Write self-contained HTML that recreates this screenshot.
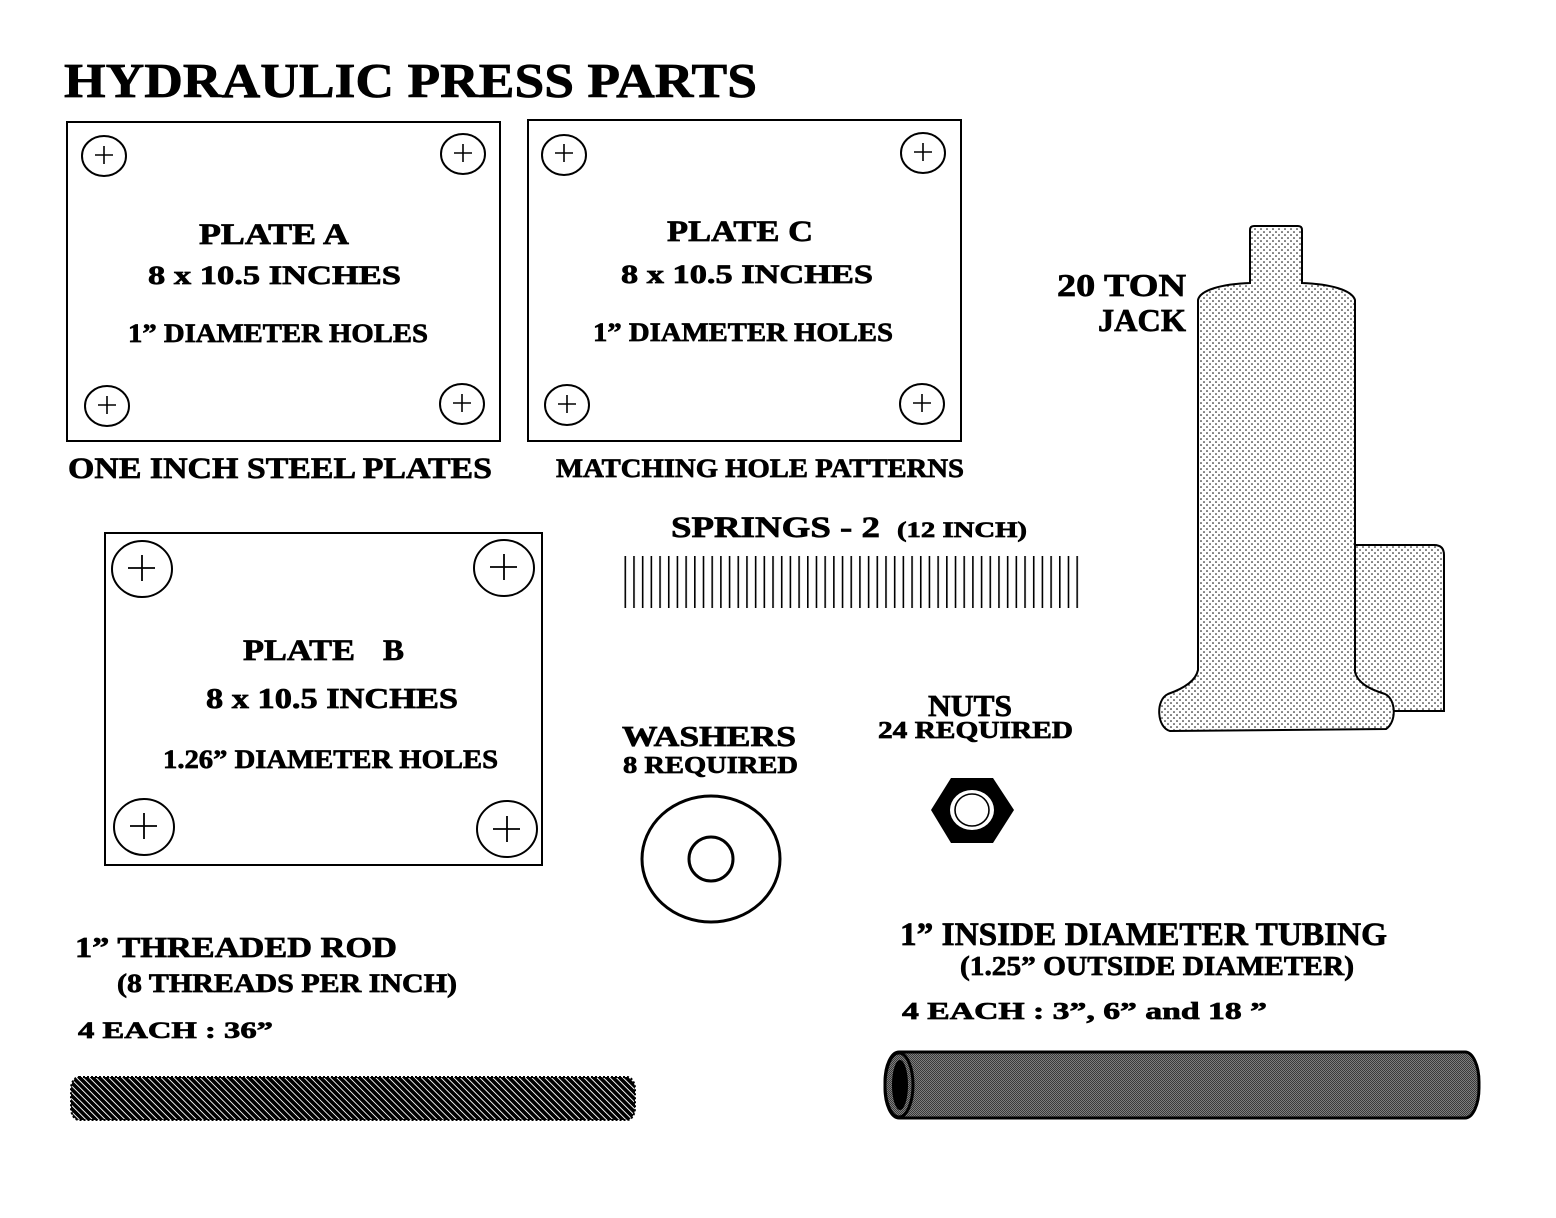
<!DOCTYPE html>
<html>
<head>
<meta charset="utf-8">
<style>
  html,body{margin:0;padding:0;background:#fff;}
  svg{display:block;}
  text{font-family:"Liberation Serif","DejaVu Serif",serif;font-weight:bold;fill:#000;stroke:#000;stroke-width:0.7;}
</style>
</head>
<body>
<svg width="1556" height="1218" viewBox="0 0 1556 1218" xmlns="http://www.w3.org/2000/svg">
  <defs>
    <pattern id="dots" patternUnits="userSpaceOnUse" width="6" height="6">
      <rect width="6" height="6" fill="#fff"/>
      <circle cx="1" cy="1" r="0.8" fill="#000"/>
      <circle cx="4" cy="4" r="0.8" fill="#000"/>
    </pattern>
    <pattern id="spring" patternUnits="userSpaceOnUse" x="624.5" y="0" width="8.69" height="10">
      <rect x="0" y="0" width="1.6" height="10" fill="#000"/>
    </pattern>
    <pattern id="thread" patternUnits="userSpaceOnUse" width="4.6" height="4.6" patternTransform="rotate(-45)">
      <rect width="4.6" height="4.6" fill="#000"/>
      <rect x="0" y="0" width="0.9" height="4.6" fill="#fff"/>
    </pattern>
    <pattern id="check" patternUnits="userSpaceOnUse" width="2" height="2">
      <rect width="2" height="2" fill="#7e7e7e"/>
      <rect width="1" height="1" fill="#3a3a3a"/>
      <rect x="1" y="1" width="1" height="1" fill="#3a3a3a"/>
    </pattern>
  </defs>

  <!-- Title -->
  <text x="64" y="97" font-size="49" textLength="693" lengthAdjust="spacingAndGlyphs">HYDRAULIC PRESS PARTS</text>

  <!-- Plate A -->
  <rect x="67" y="122" width="433" height="319" fill="none" stroke="#000" stroke-width="2"/>
  <g fill="none" stroke="#000" stroke-width="2">
    <ellipse cx="104" cy="156" rx="22" ry="20"/>
    <ellipse cx="463" cy="154" rx="22" ry="20"/>
    <ellipse cx="107" cy="406" rx="22" ry="20"/>
    <ellipse cx="462" cy="404" rx="22" ry="20"/>
  </g>
  <g stroke="#000" stroke-width="1.6">
    <path d="M95 155h18M104 146v18"/>
    <path d="M454 153h18M463 144v18"/>
    <path d="M98 405h18M107 396v18"/>
    <path d="M453 403h18M462 394v18"/>
  </g>
  <text x="199" y="244" font-size="30" textLength="150" lengthAdjust="spacingAndGlyphs">PLATE A</text>
  <text x="148" y="284" font-size="26" textLength="253" lengthAdjust="spacingAndGlyphs">8 x 10.5 INCHES</text>
  <text x="128" y="342" font-size="26" textLength="300" lengthAdjust="spacingAndGlyphs">1” DIAMETER HOLES</text>

  <!-- Plate C -->
  <rect x="528" y="120" width="433" height="321" fill="none" stroke="#000" stroke-width="2"/>
  <g fill="none" stroke="#000" stroke-width="2">
    <ellipse cx="564" cy="155" rx="22" ry="20"/>
    <ellipse cx="923" cy="153" rx="22" ry="20"/>
    <ellipse cx="567" cy="405" rx="22" ry="20"/>
    <ellipse cx="922" cy="404" rx="22" ry="20"/>
  </g>
  <g stroke="#000" stroke-width="1.6">
    <path d="M555 153h18M564 144v18"/>
    <path d="M914 152h18M923 143v18"/>
    <path d="M558 404h18M567 395v18"/>
    <path d="M913 403h18M922 394v18"/>
  </g>
  <text x="667" y="241" font-size="30" textLength="146" lengthAdjust="spacingAndGlyphs">PLATE C</text>
  <text x="621" y="283" font-size="26" textLength="252" lengthAdjust="spacingAndGlyphs">8 x 10.5 INCHES</text>
  <text x="593" y="341" font-size="26" textLength="300" lengthAdjust="spacingAndGlyphs">1” DIAMETER HOLES</text>

  <!-- Labels under top plates -->
  <text x="68" y="478" font-size="30" textLength="424" lengthAdjust="spacingAndGlyphs">ONE INCH STEEL PLATES</text>
  <text x="556" y="477" font-size="26" textLength="408" lengthAdjust="spacingAndGlyphs">MATCHING HOLE PATTERNS</text>

  <!-- Plate B -->
  <rect x="105" y="533" width="437" height="332" fill="none" stroke="#000" stroke-width="2"/>
  <g fill="none" stroke="#000" stroke-width="2">
    <ellipse cx="142" cy="569" rx="30" ry="28"/>
    <ellipse cx="504" cy="568" rx="30" ry="28"/>
    <ellipse cx="144" cy="827" rx="30" ry="28"/>
    <ellipse cx="507" cy="829" rx="30" ry="28"/>
  </g>
  <g stroke="#000" stroke-width="1.8">
    <path d="M128 568h27M142 555v26"/>
    <path d="M490 567h27M504 554v26"/>
    <path d="M130 826h27M144 813v26"/>
    <path d="M493 829h27M507 816v26"/>
  </g>
  <text x="243" y="660" font-size="30" textLength="112" lengthAdjust="spacingAndGlyphs">PLATE</text>
  <text x="383" y="660" font-size="30" textLength="21" lengthAdjust="spacingAndGlyphs">B</text>
  <text x="206" y="708" font-size="28" textLength="252" lengthAdjust="spacingAndGlyphs">8 x 10.5 INCHES</text>
  <text x="163" y="768" font-size="26" textLength="335" lengthAdjust="spacingAndGlyphs">1.26” DIAMETER HOLES</text>

  <!-- Springs -->
  <text x="671" y="537" font-size="30" textLength="209" lengthAdjust="spacingAndGlyphs">SPRINGS - 2</text>
  <text x="897" y="537" font-size="22" textLength="130" lengthAdjust="spacingAndGlyphs">(12 INCH)</text>
  <rect x="624" y="556" width="455" height="52" fill="url(#spring)"/>

  <!-- 20 TON JACK -->
  <text x="1057" y="296" font-size="32" textLength="129" lengthAdjust="spacingAndGlyphs">20 TON</text>
  <text x="1098" y="331" font-size="32" textLength="88" lengthAdjust="spacingAndGlyphs">JACK</text>
  <path d="M1350 545 L1434 545 Q1444 545 1444 555 L1444 711 L1350 711 Z" fill="url(#dots)" stroke="#000" stroke-width="2"/>
  <path d="M1250 283 L1250 230 Q1250 226 1254 226 L1298 226 Q1302 226 1302 230 L1302 283
           C1330 284 1352 290 1355 300
           L1355 672
           C1358 684 1372 690 1385 694
           C1396 699 1397 722 1386 729
           L1170 731
           C1157 728 1155 700 1168 694
           C1185 688 1196 680 1198 670
           L1198 300
           C1200 290 1222 284 1250 283 Z"
        fill="url(#dots)" stroke="#000" stroke-width="2"/>

  <!-- Washers -->
  <text x="622" y="746" font-size="28" textLength="174" lengthAdjust="spacingAndGlyphs">WASHERS</text>
  <text x="623" y="773" font-size="24" textLength="175" lengthAdjust="spacingAndGlyphs">8 REQUIRED</text>
  <ellipse cx="711" cy="859" rx="69" ry="63" fill="none" stroke="#000" stroke-width="3"/>
  <circle cx="711" cy="859" r="22" fill="none" stroke="#000" stroke-width="3"/>

  <!-- Nuts -->
  <text x="928" y="716" font-size="31" textLength="84" lengthAdjust="spacingAndGlyphs">NUTS</text>
  <text x="878" y="738" font-size="24" textLength="195" lengthAdjust="spacingAndGlyphs">24 REQUIRED</text>
  <polygon points="931,810 951,778 993,778 1014,810 993,843 951,843" fill="#000"/>
  <ellipse cx="972" cy="810" rx="22" ry="20" fill="#fff"/>
  <ellipse cx="972" cy="810" rx="17" ry="16" fill="none" stroke="#000" stroke-width="1.6"/>

  <!-- Threaded rod -->
  <text x="75" y="957" font-size="29" textLength="322" lengthAdjust="spacingAndGlyphs">1” THREADED ROD</text>
  <text x="117" y="992" font-size="26" textLength="340" lengthAdjust="spacingAndGlyphs">(8 THREADS PER INCH)</text>
  <text x="78" y="1038" font-size="23" textLength="195" lengthAdjust="spacingAndGlyphs">4 EACH :  36”</text>
  <rect x="71" y="1077" width="564" height="43" rx="8" ry="12" fill="url(#thread)"/>
  <rect x="71" y="1077" width="564" height="43" rx="8" ry="12" fill="none" stroke="#000" stroke-width="2" stroke-dasharray="2 2"/>

  <!-- Tubing -->
  <text x="900" y="945" font-size="33" textLength="487" lengthAdjust="spacingAndGlyphs">1” INSIDE DIAMETER TUBING</text>
  <text x="960" y="975" font-size="27" textLength="394" lengthAdjust="spacingAndGlyphs">(1.25” OUTSIDE DIAMETER)</text>
  <text x="902" y="1019" font-size="24" textLength="365" lengthAdjust="spacingAndGlyphs">4 EACH :  3”, 6” and 18 ”</text>
  <rect x="885" y="1052" width="594" height="66" rx="14" ry="30" fill="url(#check)" stroke="#000" stroke-width="3"/>
  <ellipse cx="899" cy="1085" rx="14" ry="32" fill="url(#check)" stroke="#000" stroke-width="3"/>
  <ellipse cx="900" cy="1085" rx="8" ry="25" fill="#000"/>
</svg>
</body>
</html>
